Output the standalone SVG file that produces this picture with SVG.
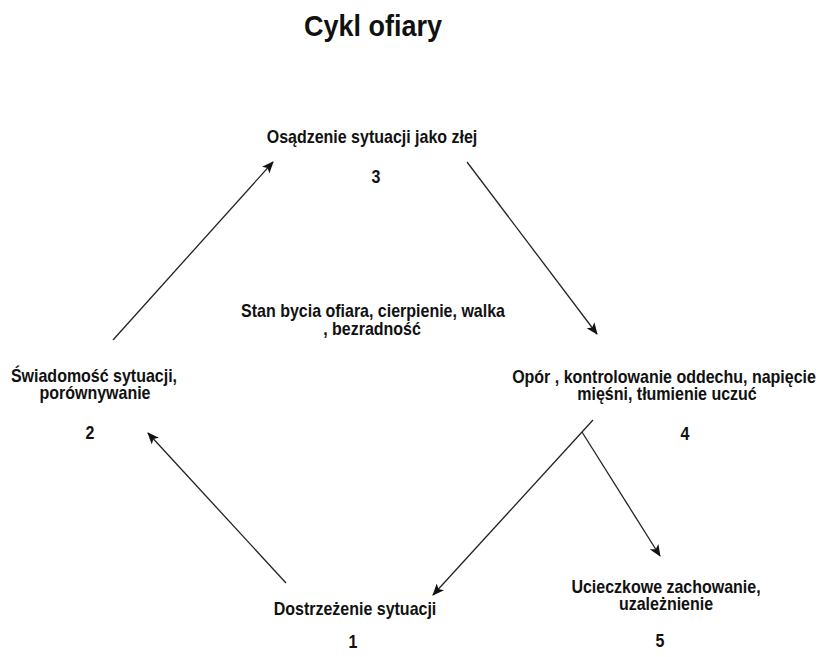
<svg xmlns="http://www.w3.org/2000/svg" width="820" height="657" viewBox="0 0 820 657">
<style>
text{font-family:"Liberation Sans",Arial,sans-serif;font-weight:bold;font-size:16px;fill:#111;text-anchor:middle}
.title{font-size:27px}
.edge{stroke:#222;stroke-width:1.3;fill:none}
</style>
<defs>
<marker id="arr" viewBox="0 0 12 10" refX="11" refY="5" markerWidth="12" markerHeight="10" markerUnits="userSpaceOnUse" orient="auto">
<path d="M0,0 L12,5 L0,10 L3,5 z" fill="#111"/>
</marker>
</defs>
<rect width="820" height="657" fill="#fff"/>
<g id="title"><text class="title" transform="translate(373,36) scale(1,1.08)">Cykl ofiary</text></g>
<g id="center"><text transform="translate(373,317) scale(1,1.2)">Stan bycia ofiara, cierpienie, walka</text><text transform="translate(372,335) scale(1,1.2)">, bezradność</text></g>
<g id="node3"><text transform="translate(372,143) scale(1,1.2)">Osądzenie sytuacji jako złej</text><text transform="translate(376,183) scale(1,1.2)">3</text></g>
<g id="node2"><text transform="translate(94,382) scale(1,1.2)">Świadomość sytuacji,</text><text transform="translate(95,399) scale(1,1.2)">porównywanie</text><text transform="translate(90,439) scale(1,1.2)">2</text></g>
<g id="node4"><text transform="translate(664,383) scale(1,1.2)">Opór , kontrolowanie oddechu, napięcie</text><text transform="translate(667,400) scale(1,1.2)">mięśni, tłumienie uczuć</text><text transform="translate(685,440) scale(1,1.2)">4</text></g>
<g id="node1"><text transform="translate(355,615) scale(1,1.2)">Dostrzeżenie sytuacji</text><text transform="translate(353,648) scale(1,1.2)">1</text></g>
<g id="node5"><text transform="translate(666,593) scale(1,1.2)">Ucieczkowe zachowanie,</text><text transform="translate(666,610) scale(1,1.2)">uzależnienie</text><text transform="translate(660,647) scale(1,1.2)">5</text></g>
<g id="connectors">
<line class="edge" x1="113" y1="340" x2="273" y2="162" marker-end="url(#arr)"/>
<line class="edge" x1="467" y1="162" x2="597" y2="334" marker-end="url(#arr)"/>
<line class="edge" x1="593" y1="420" x2="433" y2="595" marker-end="url(#arr)"/>
<line class="edge" x1="582" y1="432" x2="660" y2="556" marker-end="url(#arr)"/>
<line class="edge" x1="286" y1="583" x2="148" y2="433" marker-end="url(#arr)"/>
</g>
</svg>
